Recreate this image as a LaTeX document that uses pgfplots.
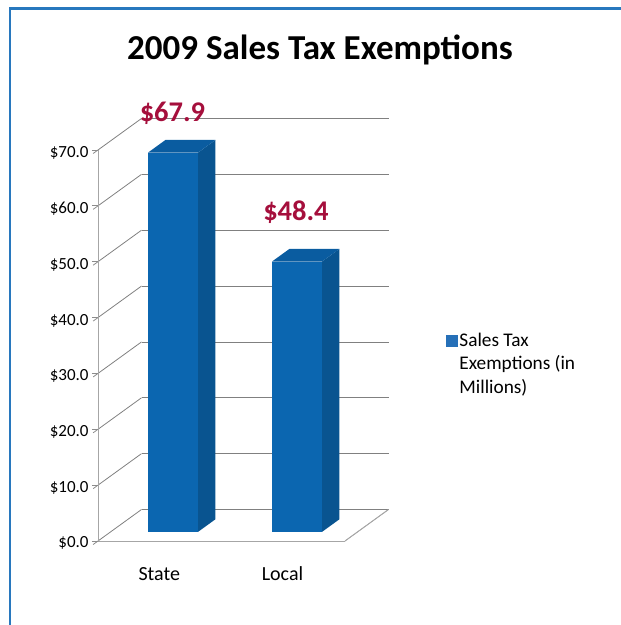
\documentclass[border=0pt]{standalone}
\usepackage{pgfplots}
\pgfplotsset{compat=1.18}
\usepackage{fontspec}
\setmainfont{Carlito}
\definecolor{barfront}{RGB}{11,102,176}
\definecolor{barside}{RGB}{9,84,144}
\definecolor{bartop}{RGB}{10,92,160}
\definecolor{legendblue}{RGB}{38,112,184}
\definecolor{framecol}{RGB}{40,120,190}
\definecolor{labelred}{RGB}{165,15,60}

% bar as three faces: x left, x right, value
\newcommand{\oblbar}[3]{
  \addplot3[fill=barfront,draw=none,forget plot] coordinates {(#1,0.29,0) (#2,0.29,0) (#2,0.29,#3) (#1,0.29,#3)} -- cycle;
  \addplot3[fill=barside,draw=none,forget plot] coordinates {(#2,0.29,0) (#2,0.69,0) (#2,0.69,#3) (#2,0.29,#3)} -- cycle;
  \addplot3[fill=bartop,draw=none,forget plot] coordinates {(#1,0.29,#3) (#2,0.29,#3) (#2,0.69,#3) (#1,0.69,#3)} -- cycle;
}

\begin{document}
\begin{tikzpicture}[x=1pt,y=1pt]
\path[use as bounding box] (0,0) rectangle (621,625);
\draw[framecol,line width=2.5pt] (10,0) -- (10,616.5) -- (621,616.5);
\node[font=\fontsize{35}{38}\selectfont\bfseries] at (320,575) {2009 Sales Tax Exemptions};
\begin{axis}[
    at={(159.75pt,84pt)}, anchor=origin,
    x={(123.5pt,0pt)}, y={(43.5pt,31.5pt)}, z={(0pt,5.586pt)},
    xmin=-0.5, xmax=1.5, ymin=0, ymax=1, zmin=0, zmax=70,
    axis lines*=left,
    axis line style={black!35,line width=0.8pt},
    xtick={0,1}, xticklabels={State,Local},
    minor xtick={-0.5,0.5,1.5},
    ytick=\empty,
    ztick={0,10,...,70},
    zticklabel={\$\pgfmathprintnumber[fixed,fixed zerofill,precision=1]{\tick}},
    /pgf/number format/assume math mode=true,
    tick label style={font=\fontsize{17}{19}\selectfont,black},
    x tick label style={font=\fontsize{20}{22}\selectfont,yshift=-19pt,xshift=9.5pt},
    z tick label style={xshift=-1pt,yshift=8pt},
    tick align=outside,
    major tick length=6pt, minor tick length=6pt,
    xtick style={draw=none},
    ztick style={black!45,line width=0.8pt},
    minor x tick style={black!45,line width=0.8pt},
    zmajorgrids,
    grid style={black!50,line width=0.8pt},
    clip=false,
    legend image code/.code={\fill[legendblue] (0pt,18pt) rectangle (11pt,29pt);},
    legend style={at={(1.187,0.419)},anchor=west,draw=none,fill=none,
                  font=\fontsize{19.3}{23.5}\selectfont,cells={align=left}},
]
\oblbar{-0.197}{0.208}{67.9}
\oblbar{0.807}{1.212}{48.4}
\addplot3[black!35,line width=0.8pt,forget plot] coordinates {(1.5,0,0) (1.5,1,0)};
\addlegendimage{legendblue}
\addlegendentry{Sales Tax\\Exemptions (in\\Millions)}
\node[font=\fontsize{28.5}{31}\selectfont\bfseries,labelred] at (axis cs:-0.14,0.69,72.6) {\$67.9};
\node[font=\fontsize{28.5}{31}\selectfont\bfseries,labelred] at (axis cs:0.86,0.69,54.9) {\$48.4};
\end{axis}
\end{tikzpicture}
\end{document}
